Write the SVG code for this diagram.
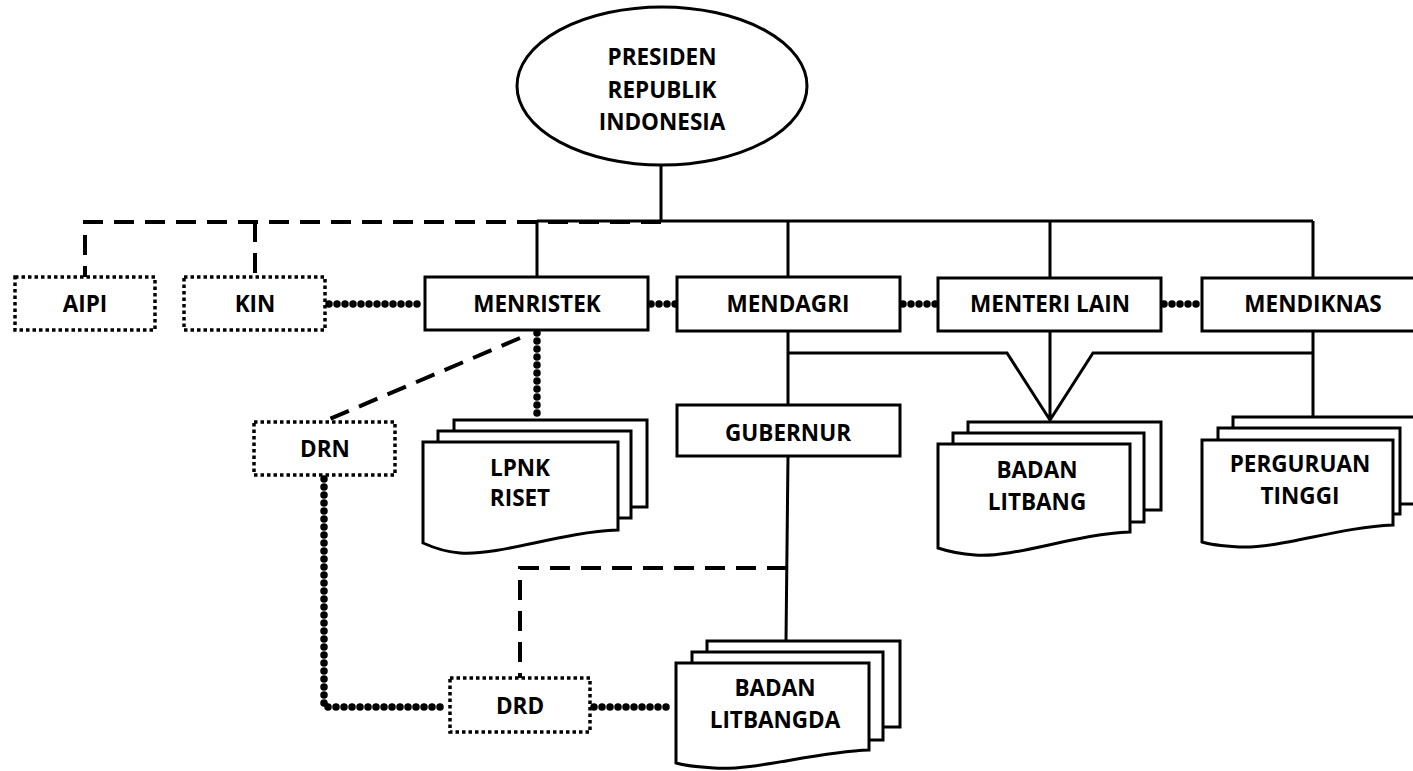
<svg xmlns="http://www.w3.org/2000/svg" width="1413" height="771" viewBox="0 0 1413 771">
<style>
.box{fill:#fff;stroke:#000;stroke-width:3}
.dbox{fill:#fff;stroke:#000;stroke-width:3.5;stroke-dasharray:3.5 3}
.doc{fill:#fff;stroke:#000;stroke-width:3;stroke-linejoin:miter}
.solid{fill:none;stroke:#000;stroke-width:3}
.dash{fill:none;stroke:#000;stroke-width:4;stroke-dasharray:20 11}
.bead{fill:none;stroke:#000;stroke-width:7.5;stroke-linecap:round;stroke-dasharray:0 8}
text{font-family:"Open Sans","Liberation Sans",sans-serif;font-weight:700;font-size:22.5px;text-anchor:middle;fill:#000}
</style>
<rect width="1413" height="771" fill="#fff"/>
<g id="connectors">
<path class="solid" d="M661,165 V221 M537,221 H1313 M537,221 V277 M788,221 V277 M1050,221 V277 M1313,221 V277"/>
<path class="dash" d="M661,222 H85 V277 M255,222 V277"/>
<path class="bead" d="M329,304 H424"/>
<path class="bead" d="M651,304 H676"/>
<path class="bead" d="M903,304 H937"/>
<path class="bead" d="M1164,304 H1201"/>
<path class="bead" d="M537,333 V418"/>
<path class="dash" d="M520,338 L325,421"/>
<path class="solid" d="M788,331 V405 M788,353 H1007 L1050,420 L1093,353 H1313 M1050,331 V420 M1313,331 V417"/>
<path class="solid" d="M788,456 L786,641"/>
<path class="dash" d="M787,568 H520 V678"/>
<path class="bead" d="M324,479 V707 H448"/>
<path class="bead" d="M594,707 H668"/>
</g>
<g id="presiden">
<ellipse class="box" cx="662" cy="86" rx="145" ry="79"/>
<text x="662" y="65">PRESIDEN</text>
<text x="662" y="98">REPUBLIK</text>
<text x="662" y="130">INDONESIA</text>
</g>
<g id="aipi"><rect class="dbox" x="15" y="277" width="140" height="53"/><text x="85" y="312">AIPI</text></g>
<g id="kin"><rect class="dbox" x="184" y="277" width="141" height="53"/><text x="255" y="312">KIN</text></g>
<g id="menristek"><rect class="box" x="425" y="277" width="223" height="53"/><text x="537" y="312">MENRISTEK</text></g>
<g id="mendagri"><rect class="box" x="677" y="277" width="223" height="54"/><text x="788" y="312">MENDAGRI</text></g>
<g id="menteri-lain"><rect class="box" x="938" y="278" width="223" height="53"/><text x="1050" y="312">MENTERI LAIN</text></g>
<g id="mendiknas"><rect class="box" x="1202" y="278" width="230" height="53"/><text x="1313" y="312">MENDIKNAS</text></g>
<g id="gubernur"><rect class="box" x="677" y="405" width="223" height="51"/><text x="788" y="441">GUBERNUR</text></g>
<g id="drn"><rect class="dbox" x="254" y="422" width="141" height="53"/><text x="325" y="457">DRN</text></g>
<g id="drd"><rect class="dbox" x="450" y="678" width="140" height="54"/><text x="520" y="714">DRD</text></g>
<g id="lpnk-riset">
<rect class="doc" x="454" y="420" width="193" height="87"/>
<rect class="doc" x="438" y="431" width="193" height="87"/>
<path class="doc" d="M423,442 H618 V530 C560,532 500,556 460,553 C445,552 432,547 423,543 Z"/>
<text x="520" y="476">LPNK</text>
<text x="520" y="506">RISET</text>
</g>
<g id="badan-litbang">
<rect class="doc" x="968" y="422" width="193" height="88"/>
<rect class="doc" x="953" y="433" width="191" height="89"/>
<path class="doc" d="M938,444 H1130 V532 C1075,534 1015,558 975,555 C960,554 947,551 938,548 Z"/>
<text x="1037" y="478">BADAN</text>
<text x="1037" y="510">LITBANG</text>
</g>
<g id="perguruan-tinggi">
<rect class="doc" x="1233" y="417" width="200" height="87"/>
<rect class="doc" x="1218" y="428" width="182" height="86"/>
<path class="doc" d="M1202,440 H1393 V525 C1339,527 1279,549 1239,547 C1224,546 1211,545 1202,542 Z"/>
<text x="1300" y="472">PERGURUAN</text>
<text x="1300" y="504">TINGGI</text>
</g>
<g id="badan-litbangda">
<rect class="doc" x="707" y="641" width="193" height="86"/>
<rect class="doc" x="692" y="652" width="191" height="88"/>
<path class="doc" d="M676,663 H869 V750 C814,752 754,771 714,768 C699,767 686,766 676,763 Z"/>
<text x="775" y="696">BADAN</text>
<text x="775" y="728">LITBANGDA</text>
</g>
</svg>
